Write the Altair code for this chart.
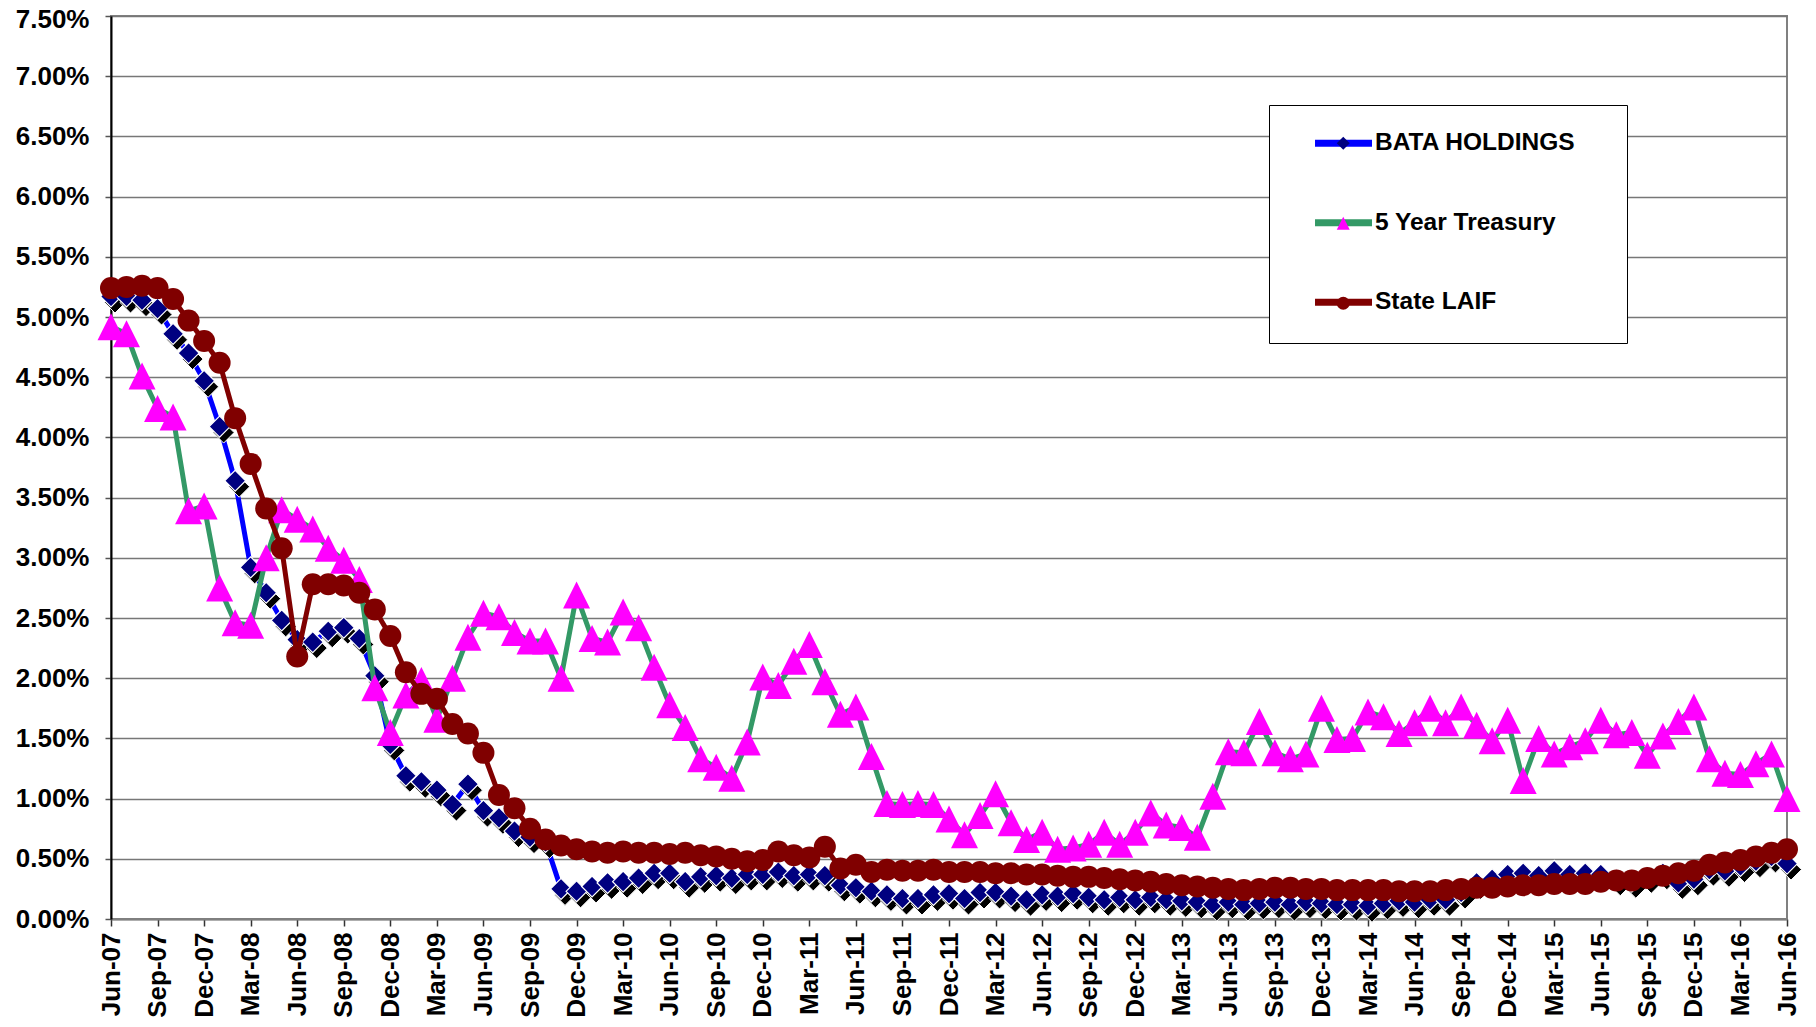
import altair as alt
import pandas as pd

months = list(pd.date_range("2007-06-01", periods=109, freq="MS").strftime("%b-%y"))
tick_labels = months[::3]

series_names = ["BATA HOLDINGS", "5 Year Treasury", "State LAIF"]
series_codes = ["b", "t", "l"]

bata = [5.17, 5.17, 5.14, 5.07, 4.86, 4.70, 4.47, 4.09, 3.64, 2.92,
        2.71, 2.48, 2.32, 2.30, 2.39, 2.42, 2.33, 2.02, 1.45, 1.19,
        1.14, 1.07, 0.95, 1.12, 0.90, 0.84, 0.73, 0.68, 0.64, 0.25,
        0.23, 0.27, 0.30, 0.31, 0.34, 0.38, 0.38, 0.31, 0.35, 0.36,
        0.34, 0.37, 0.37, 0.39, 0.36, 0.37, 0.36, 0.28, 0.26, 0.23,
        0.20, 0.17, 0.17, 0.20, 0.21, 0.17, 0.22, 0.22, 0.19, 0.16,
        0.20, 0.19, 0.21, 0.18, 0.16, 0.18, 0.16, 0.18, 0.16, 0.15,
        0.14, 0.12, 0.14, 0.12, 0.13, 0.14, 0.12, 0.14, 0.13, 0.12,
        0.12, 0.11, 0.13, 0.15, 0.14, 0.16, 0.16, 0.22, 0.30, 0.33,
        0.37, 0.38, 0.36, 0.40, 0.37, 0.38, 0.37, 0.33, 0.31, 0.35,
        0.38, 0.30, 0.33, 0.41, 0.40, 0.44, 0.48, 0.52, 0.46]

treasury = [4.92, 4.86, 4.51, 4.24, 4.17, 3.39, 3.43, 2.75, 2.46, 2.44,
            3.00, 3.40, 3.32, 3.24, 3.08, 2.98, 2.82, 1.92, 1.55, 1.86,
            1.98, 1.66, 2.00, 2.34, 2.54, 2.51, 2.38, 2.31, 2.31, 2.00,
            2.69, 2.33, 2.30, 2.55, 2.42, 2.09, 1.78, 1.59, 1.33, 1.26,
            1.17, 1.47, 2.01, 1.94, 2.14, 2.28, 1.97, 1.70, 1.76, 1.35,
            0.96, 0.95, 0.96, 0.95, 0.83, 0.70, 0.86, 1.04, 0.80, 0.66,
            0.72, 0.58, 0.59, 0.62, 0.72, 0.62, 0.72, 0.88, 0.78, 0.76,
            0.68, 1.02, 1.39, 1.38, 1.64, 1.38, 1.33, 1.37, 1.75, 1.49,
            1.50, 1.72, 1.68, 1.54, 1.63, 1.75, 1.63, 1.76, 1.61, 1.48,
            1.65, 1.15, 1.50, 1.37, 1.43, 1.48, 1.65, 1.53, 1.55, 1.36,
            1.52, 1.64, 1.76, 1.33, 1.21, 1.20, 1.29, 1.37, 1.00]

laif = [5.24, 5.25, 5.26, 5.24, 5.15, 4.97, 4.80, 4.62, 4.16, 3.78,
        3.41, 3.08, 2.18, 2.78, 2.78, 2.77, 2.71, 2.57, 2.35, 2.05,
        1.87, 1.83, 1.62, 1.54, 1.38, 1.03, 0.92, 0.75, 0.66, 0.61,
        0.58, 0.56, 0.55, 0.56, 0.55, 0.55, 0.54, 0.55, 0.53, 0.52,
        0.50, 0.48, 0.49, 0.56, 0.53, 0.51, 0.60, 0.42, 0.45, 0.39,
        0.41, 0.40, 0.40, 0.41, 0.39, 0.39, 0.39, 0.38, 0.38, 0.37,
        0.37, 0.36, 0.35, 0.35, 0.34, 0.33, 0.32, 0.31, 0.29, 0.28,
        0.27, 0.26, 0.25, 0.24, 0.25, 0.26, 0.26, 0.25, 0.25, 0.24,
        0.24, 0.24, 0.24, 0.23, 0.23, 0.23, 0.24, 0.25, 0.26, 0.26,
        0.27, 0.28, 0.28, 0.29, 0.29, 0.29, 0.31, 0.32, 0.32, 0.34,
        0.36, 0.38, 0.40, 0.45, 0.47, 0.49, 0.52, 0.55, 0.58]

y_ticks = [round(i * 0.005, 4) for i in range(16)]

rows = []
for name, code, vals in zip(series_names, series_codes, [bata, treasury, laif]):
    for i, v in enumerate(vals):
        rows.append({"idx": i, "month": months[i], "series": name, "code": code, "value": v / 100})
df = pd.DataFrame(rows)

FONT = "Liberation Sans"
TRI = "M0,-1L1,1L-1,1Z"
LEG_LINE = "M1.09,0L9.09,0"

label_arr = "[" + ",".join("'%s'" % m for m in tick_labels) + "]"

x_enc = alt.X(
    "idx:Q",
    scale=alt.Scale(domain=[0, 108], nice=False, zero=False),
    axis=alt.Axis(
        values=list(range(0, 109, 3)),
        labelExpr=label_arr + "[round(datum.value/3)]",
        title=None, grid=False, labelAngle=270,
        labelFont=FONT, labelFontSize=26, labelFontWeight="bold", labelColor="black",
        labelPadding=6, tickSize=7, tickColor="#333333", tickWidth=1.5,
        domainColor="#808080", domainWidth=2,
        labelOverlap=False, labelFlush=False,
    ),
)
y_enc = alt.Y(
    "value:Q",
    scale=alt.Scale(domain=[0, 0.075], nice=False, zero=True),
    axis=alt.Axis(
        values=y_ticks, format=".2%", title=None, grid=True,
        gridColor="#777777", gridWidth=1.5,
        domainColor="black", domainWidth=2,
        tickSize=6, tickColor="#555555", tickWidth=1.5,
        labelFont=FONT, labelFontSize=26, labelFontWeight="bold", labelColor="black",
        labelPadding=16, labelOverlap=False, labelFlush=False,
        labelOffset={"condition": {"test": "datum.value >= 0.0749", "value": 3}, "value": 0},
    ),
)

legend_lines = alt.Legend(
    title="x", titleOpacity=0, titleOrient="right", titleFontSize=8, titlePadding=20,
    orient="none", legendX=1158, legendY=89,
    symbolType=LEG_LINE, symbolSize=203, symbolStrokeWidth=7,
    labelFont=FONT, labelFontSize=24.5, labelFontWeight="bold", labelColor="black",
    labelLimit=600, labelOffset=55.5, rowPadding=50.5, padding=26,
    strokeColor="black", fillColor="white", zindex=1,
)
legend_marks = alt.Legend(
    title=None, orient="none", legendX=1194, legendY=89,
    symbolSize=170, symbolStrokeWidth=0,
    labelFont=FONT, labelFontSize=24.5, labelFontWeight="bold", labelOpacity=0,
    rowPadding=55, padding=26, zindex=2,
)

stroke_enc = alt.Stroke(
    "series:N",
    scale=alt.Scale(domain=series_names, range=["#0000FF", "#339966", "#800000"]),
    legend=legend_lines,
)
fill_enc = alt.Fill(
    "code:N",
    scale=alt.Scale(domain=series_codes, range=["#000080", "#FF00FF", "#800000"]),
    legend=legend_marks,
)
shape_enc = alt.Shape(
    "code:N",
    scale=alt.Scale(domain=series_codes, range=["diamond", TRI, "circle"]),
    legend=legend_marks,
)

base = alt.Chart(df).encode(x=x_enc, y=y_enc)


def sel(code):
    return base.transform_filter(alt.datum.code == code)


line_b = sel("b").mark_line(strokeWidth=5).encode(stroke=stroke_enc, order="idx:Q")
shadow_b = sel("b").mark_point(
    shape="diamond", size=440, filled=True, fill="black", opacity=1,
    xOffset=4, yOffset=6, stroke="white", strokeWidth=1,
)
pts_b = sel("b").mark_point(filled=True, size=440, opacity=1, stroke="white", strokeWidth=1.2).encode(
    fill=fill_enc, shape=shape_enc)

line_t = sel("t").mark_line(strokeWidth=5).encode(stroke=stroke_enc, order="idx:Q")
pts_t = sel("t").mark_point(filled=True, size=729, opacity=1, strokeWidth=0).encode(
    fill=fill_enc, shape=shape_enc)

line_l = sel("l").mark_line(strokeWidth=5).encode(stroke=stroke_enc, order="idx:Q")
pts_l = sel("l").mark_point(filled=True, size=484, opacity=1, strokeWidth=0).encode(
    fill=fill_enc, shape=shape_enc)

chart = alt.layer(line_b, shadow_b, pts_b, line_t, pts_t, line_l, pts_l).properties(
    width=1676, height=903,
    autosize=alt.AutoSizeParams(type="none"),
    padding={"left": 103, "top": 8, "right": 20, "bottom": 100},
    background="white",
).configure_view(stroke="#808080", strokeWidth=2)

chart.save("out.html", embed_options={"renderer": "svg", "actions": False})
